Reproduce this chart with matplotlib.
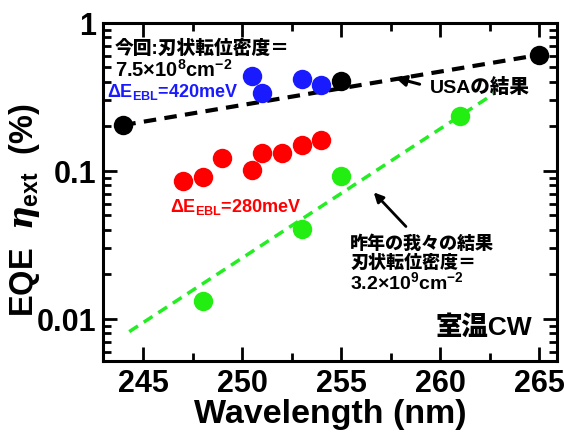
import matplotlib
matplotlib.use("Agg")
import matplotlib.pyplot as plt
from matplotlib.ticker import FixedLocator, LogLocator, NullFormatter, MultipleLocator

plt.rcParams['font.family'] = ['Liberation Sans', 'Noto Sans CJK JP']
plt.rcParams['font.weight'] = 'bold'
plt.rcParams['mathtext.fontset'] = 'custom'
plt.rcParams['mathtext.rm'] = 'Liberation Sans:bold'
plt.rcParams['mathtext.bf'] = 'Liberation Sans:bold'
plt.rcParams['mathtext.it'] = 'DejaVu Serif:italic'

# Data
usa_wl = [244, 255, 265]
usa_eqe = [0.204, 0.405, 0.608]
usa_fit_wl = [244, 265]
usa_fit_eqe = [0.204, 0.608]

blue_wl = [250.5, 251.0, 253.0, 254.0]
blue_eqe = [0.438, 0.336, 0.419, 0.381]

red_wl = [247, 248, 249, 250.5, 251, 252, 253, 254]
red_eqe = [0.0855, 0.0906, 0.122, 0.1016, 0.132, 0.132, 0.149, 0.162]

green_wl = [248, 253, 255, 261]
green_eqe = [0.0133, 0.0408, 0.092, 0.235]
green_fit_wl = [244.3, 262.7]
green_fit_eqe = [0.0082, 0.331]

xticks = [245, 250, 255, 260, 265]
yticks = [0.01, 0.1, 1]
ytick_labels = ["0.01", "0.1", "1"]

fig = plt.figure(figsize=(5.64, 4.35), dpi=100)
ax = fig.add_axes([0.1835, 0.168, 0.804, 0.777])

ax.plot(usa_fit_wl, usa_fit_eqe, ls=(0, (3, 2)), color='black', lw=3, zorder=2)
ax.plot(green_fit_wl, green_fit_eqe, ls=(0, (3, 2)), color='#22ee22', lw=2.5, zorder=2)

ms = 14
ax.plot(usa_wl, usa_eqe, 'o', color='black', ms=ms, mec='none', zorder=3)
ax.plot(blue_wl, blue_eqe, 'o', color='#1a1aff', ms=ms, mec='none', zorder=3)
ax.plot(red_wl, red_eqe, 'o', color='#ff0000', ms=ms, mec='none', zorder=3)
ax.plot(green_wl, green_eqe, 'o', color='#22ee11', ms=ms, mec='none', zorder=3)

ax.set_yscale('log')
ax.set_xlim(243.0, 265.9)
ax.set_ylim(0.0052, 1.0)
ax.set_xticks(xticks)
ax.set_xticklabels([str(t) for t in xticks])
ax.xaxis.set_minor_locator(MultipleLocator(2.5))
ax.yaxis.set_major_locator(FixedLocator(yticks))
ax.set_yticklabels(ytick_labels)
ax.yaxis.set_minor_locator(LogLocator(base=10, subs=range(2, 10)))
ax.yaxis.set_minor_formatter(NullFormatter())

for s in ax.spines.values():
    s.set_linewidth(2.2)
ax.tick_params(which='both', direction='in', top=True, right=True, width=2)
ax.tick_params(which='major', length=10, labelsize=22, pad=5)
ax.tick_params(which='minor', length=6)
for lab in ax.get_xticklabels() + ax.get_yticklabels():
    lab.set_fontweight('bold')

ax.set_xlabel("Wavelength (nm)", fontsize=24.5, fontweight='bold', labelpad=0)
ax.set_ylabel(r"EQE  $\eta_{\mathbf{ext}}$  (%)", fontsize=23.5, fontweight='bold')
ax.yaxis.set_label_coords(-0.136, 0.45)

hw = 'heavy'
# Annotations
ax.text(0.025, 0.952, "今回:刃状転位密度＝", transform=ax.transAxes, fontsize=13.5,
        fontweight=hw, va='top', ha='left')
ax.text(0.025, 0.897, r"7.5×10$^{8}$cm$^{-2}$", transform=ax.transAxes, fontsize=14.5,
        fontweight='bold', va='top', ha='left')
ax.text(0.008, 0.800, r"ΔE$_{\mathrm{EBL}}$=420meV", transform=ax.transAxes, fontsize=13,
        fontweight='bold', va='center', ha='left', color='#1a1aff')
ax.text(0.147, 0.459, r"ΔE$_{\mathrm{EBL}}$=280meV", transform=ax.transAxes, fontsize=13,
        fontweight='bold', va='center', ha='left', color='#ff0000')

ax.annotate("", xy=(257.6, 0.431), xytext=(259.1, 0.381),
            arrowprops=dict(arrowstyle='-|>', color='black', lw=2.2, mutation_scale=16))
ax.text(259.5, 0.369, "USAの結果", fontsize=14, fontweight=hw, va='center', ha='left')

ax.annotate("", xy=(256.55, 0.0739), xytext=(258.37, 0.0408),
            arrowprops=dict(arrowstyle='-|>', color='black', lw=2.0, mutation_scale=14))
ax.text(0.544, (362 - 244) / 338, "昨年の我々の結果", transform=ax.transAxes, fontsize=13,
        fontweight=hw, va='center', ha='left')
ax.text(0.544, (362 - 263) / 338, "刃状転位密度＝", transform=ax.transAxes, fontsize=13,
        fontweight=hw, va='center', ha='left')
ax.text(0.544, (362 - 282) / 338, r"3.2×10$^{9}$cm$^{-2}$", transform=ax.transAxes, fontsize=14,
        fontweight='bold', va='center', ha='left')

ax.text(0.945, 0.1036, "室温CW", transform=ax.transAxes, fontsize=19,
        fontweight=hw, va='center', ha='right')

fig.savefig("out.png", dpi=100)
